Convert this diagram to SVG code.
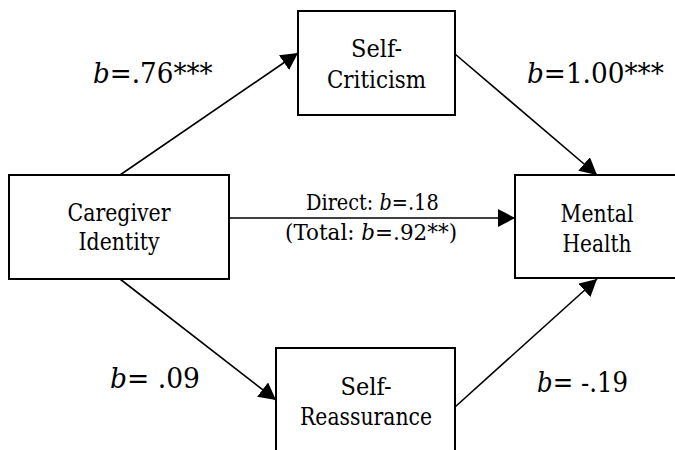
<svg xmlns="http://www.w3.org/2000/svg" width="675" height="450" viewBox="0 0 675 450">
  <style>
    .box { fill: #ffffff; stroke: #000000; stroke-width: 2; }
    .edge { stroke: #000000; stroke-width: 1.6; fill: none; marker-end: url(#head); }
    text { font-family: 'DejaVu Serif', 'Liberation Serif', serif; fill: #000000; }
    .node-label { font-size: 24px; text-anchor: middle; }
    .coef { font-size: 28px; }
    .mid { font-size: 23px; }
    .it { font-style: italic; }
  </style>
  <defs>
    <marker id="head" markerUnits="userSpaceOnUse" markerWidth="18" markerHeight="18" viewBox="0 0 18 18" refX="17" refY="9" orient="auto">
      <path d="M0,0 L17,9 L0,18 Z" fill="#000000"/>
    </marker>
  </defs>

  <g id="connectors">
    <line class="edge" x1="120" y1="175" x2="298" y2="53"/>
    <line class="edge" x1="455" y1="54" x2="597" y2="175"/>
    <line class="edge" x1="229" y1="218" x2="515" y2="218"/>
    <line class="edge" x1="120" y1="279" x2="276" y2="400"/>
    <line class="edge" x1="455" y1="407" x2="597" y2="279"/>
  </g>

  <g id="self-criticism">
    <rect class="box" x="298" y="11" width="157" height="104"/>
    <text class="node-label" x="376.5" y="57" textLength="51" lengthAdjust="spacingAndGlyphs">Self-</text>
    <text class="node-label" x="376.5" y="88" textLength="99" lengthAdjust="spacingAndGlyphs">Criticism</text>
  </g>

  <g id="caregiver-identity">
    <rect class="box" x="9" y="175" width="220" height="104"/>
    <text class="node-label" x="119" y="221" textLength="103" lengthAdjust="spacingAndGlyphs">Caregiver</text>
    <text class="node-label" x="119" y="250" textLength="81" lengthAdjust="spacingAndGlyphs">Identity</text>
  </g>

  <g id="mental-health">
    <rect class="box" x="515" y="175" width="170" height="103"/>
    <text class="node-label" x="597" y="222" textLength="73" lengthAdjust="spacingAndGlyphs">Mental</text>
    <text class="node-label" x="597" y="252" textLength="69" lengthAdjust="spacingAndGlyphs">Health</text>
  </g>

  <g id="self-reassurance">
    <rect class="box" x="276" y="348" width="179" height="110"/>
    <text class="node-label" x="366" y="395" textLength="51" lengthAdjust="spacingAndGlyphs">Self-</text>
    <text class="node-label" x="366" y="425" textLength="132" lengthAdjust="spacingAndGlyphs">Reassurance</text>
  </g>

  <!-- path coefficients, narrowed horizontally to a Times-like set width -->
  <g id="labels">
    <g transform="translate(93,83) scale(0.936,1)">
      <text class="coef"><tspan class="it">b</tspan>=.76***</text>
    </g>
    <g transform="translate(527,83) scale(0.94,1)">
      <text class="coef"><tspan class="it">b</tspan>=1.00***</text>
    </g>
    <g transform="translate(110,388) scale(0.949,1)">
      <text class="coef"><tspan class="it">b</tspan>= .09</text>
    </g>
    <g transform="translate(537,392) scale(0.873,1)">
      <text class="coef"><tspan class="it">b</tspan>= -.19</text>
    </g>
    <g transform="translate(306,210) scale(0.839,1)">
      <text class="mid">Direct: <tspan class="it">b</tspan>=.18</text>
    </g>
    <g transform="translate(285,240) scale(0.934,1)">
      <text class="mid">(Total: <tspan class="it">b</tspan>=.92**)</text>
    </g>
  </g>
</svg>
